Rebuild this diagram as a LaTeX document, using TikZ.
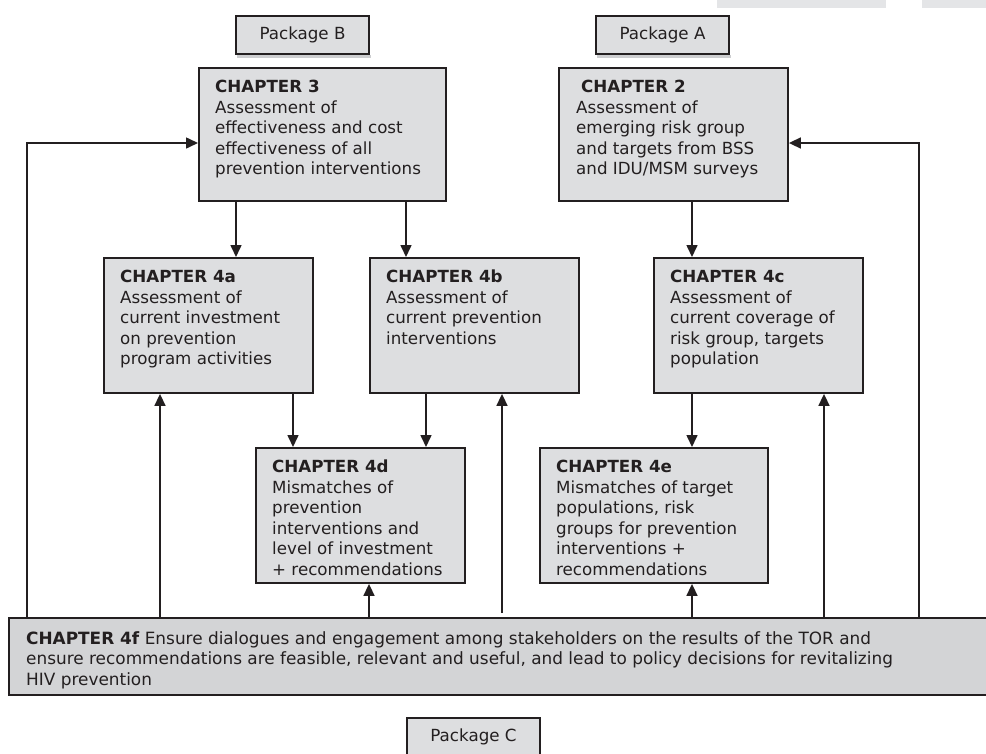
\documentclass[tikz,border=0pt]{standalone}
\usepackage{fontspec}
\setmainfont{DejaVu Sans}
\usetikzlibrary{arrows.meta}

\definecolor{ink}{RGB}{35,31,32}
\definecolor{boxgray}{RGB}{221,222,224}
\definecolor{basegray}{RGB}{211,212,214}
\definecolor{bargray}{RGB}{228,229,231}
\definecolor{shadegray}{RGB}{205,206,208}

\tikzset{
  chap/.style={draw=ink, fill=boxgray, line width=1.9pt, anchor=north west, inner sep=0pt},
  chaptext/.style={anchor=north west, align=left, inner sep=0pt, text=ink,
    font=\fontsize{16.7}{20.5}\selectfont},
  pkg/.style={draw=ink, fill=boxgray, line width=1.6pt, minimum width=133pt,
    minimum height=38pt, inner sep=0pt, text=ink, font=\fontsize{16.7}{20.5}\selectfont},
  arr/.style={draw=ink, line width=1.6pt, -{Triangle[length=12pt,width=11pt]}},
}

\begin{document}
\begin{tikzpicture}[x=1pt,y=-1pt]
  \useasboundingbox (0,0) rectangle (986,753);

  % faint bars at the top edge
  \fill[bargray] (717,0) rectangle (886,8);
  \fill[bargray] (922,0) rectangle (990,8);

  % packages
  \fill[shadegray] (237,55) rectangle (371,58);
  \fill[shadegray] (597,55) rectangle (731,58);
  \node[pkg] (pkgb) at (302.5,35)  {Package B};
  \node[pkg] (pkga) at (662.5,35)  {Package A};
  \node[pkg] (pkgc) at (473.5,737) {Package C};

  % chapter boxes
  \node[chap, minimum width=247pt, minimum height=133pt] (ch3)  at (198,67)  {};
  \node[chap, minimum width=229pt, minimum height=133pt] (ch2)  at (558,67)  {};
  \node[chap, minimum width=209pt, minimum height=135pt] (ch4a) at (103,257) {};
  \node[chap, minimum width=209pt, minimum height=135pt] (ch4b) at (369,257) {};
  \node[chap, minimum width=209pt, minimum height=135pt] (ch4c) at (653,257) {};
  \node[chap, minimum width=209pt, minimum height=135pt] (ch4d) at (255,447) {};
  \node[chap, minimum width=228pt, minimum height=135pt] (ch4e) at (539,447) {};
  \node[chap, fill=basegray, minimum width=990pt, minimum height=77pt] (ch4f) at (8,617) {};

  % texts
  \node[chaptext] (t3) at ([shift={(17pt,-13pt)}]ch3.north west)
    {\textbf{CHAPTER 3}\\Assessment of\\effectiveness and cost\\effectiveness of all\\prevention interventions};
  \node[chaptext] (t2) at ([shift={(18pt,-13pt)}]ch2.north west)
    {\hspace{5pt}\textbf{CHAPTER 2}\\Assessment of\\emerging risk group\\and targets from BSS\\and IDU/MSM surveys};
  \node[chaptext] (t4a) at ([shift={(17pt,-13pt)}]ch4a.north west)
    {\textbf{CHAPTER 4a}\\Assessment of\\current investment\\on prevention\\program activities};
  \node[chaptext] (t4b) at ([shift={(17pt,-13pt)}]ch4b.north west)
    {\textbf{CHAPTER 4b}\\Assessment of\\current prevention\\interventions};
  \node[chaptext] (t4c) at ([shift={(17pt,-13pt)}]ch4c.north west)
    {\textbf{CHAPTER 4c}\\Assessment of\\current coverage of\\risk group, targets\\population};
  \node[chaptext] (t4d) at ([shift={(17pt,-13pt)}]ch4d.north west)
    {\textbf{CHAPTER 4d}\\Mismatches of\\prevention\\interventions and\\level of investment\\+ recommendations};
  \node[chaptext] (t4e) at ([shift={(17pt,-13pt)}]ch4e.north west)
    {\textbf{CHAPTER 4e}\\Mismatches of target\\populations, risk\\groups for prevention\\interventions +\\recommendations};
  \node[chaptext, font=\fontsize{16.9}{20.5}\selectfont] (t4f) at ([shift={(18pt,-14pt)}]ch4f.north west)
    {\textbf{CHAPTER 4f} Ensure dialogues and engagement among stakeholders on the results of the TOR and\\
     ensure recommendations are feasible, relevant and useful, and lead to policy decisions for revitalizing\\
     HIV prevention};

  % columns and row of the connectors
  \foreach \n/\x in {xa/27, xb/160, xc/236, xd/293, xe/369, xf/406,
                     xg/426, xh/502, xi/692, xj/824, xk/919}
    \coordinate (\n) at (\x,0);
  \coordinate (r1) at (0,143);

  % downward
  \draw[arr] (ch3.south -| xc)  -- (ch4a.north -| xc);
  \draw[arr] (ch3.south -| xf)  -- (ch4b.north -| xf);
  \draw[arr] (ch2.south -| xi)  -- (ch4c.north -| xi);
  \draw[arr] (ch4a.south -| xd) -- (ch4d.north -| xd);
  \draw[arr] (ch4b.south -| xg) -- (ch4d.north -| xg);
  \draw[arr] (ch4c.south -| xi) -- (ch4e.north -| xi);

  % upward from chapter 4f
  \draw[arr] (ch4f.north -| xb) -- (ch4a.south -| xb);
  \draw[arr] (ch4f.north -| xe) -- (ch4d.south -| xe);
  \draw[arr, shorten <=4pt] (ch4f.north -| xh) -- (ch4b.south -| xh);
  \draw[arr] (ch4f.north -| xi) -- (ch4e.south -| xi);
  \draw[arr] (ch4f.north -| xj) -- (ch4c.south -| xj);
  \draw[arr] (ch4f.north -| xa) |- (ch3.west |- r1);
  \draw[arr] (ch4f.north -| xk) |- (ch2.east |- r1);
\end{tikzpicture}
\end{document}
